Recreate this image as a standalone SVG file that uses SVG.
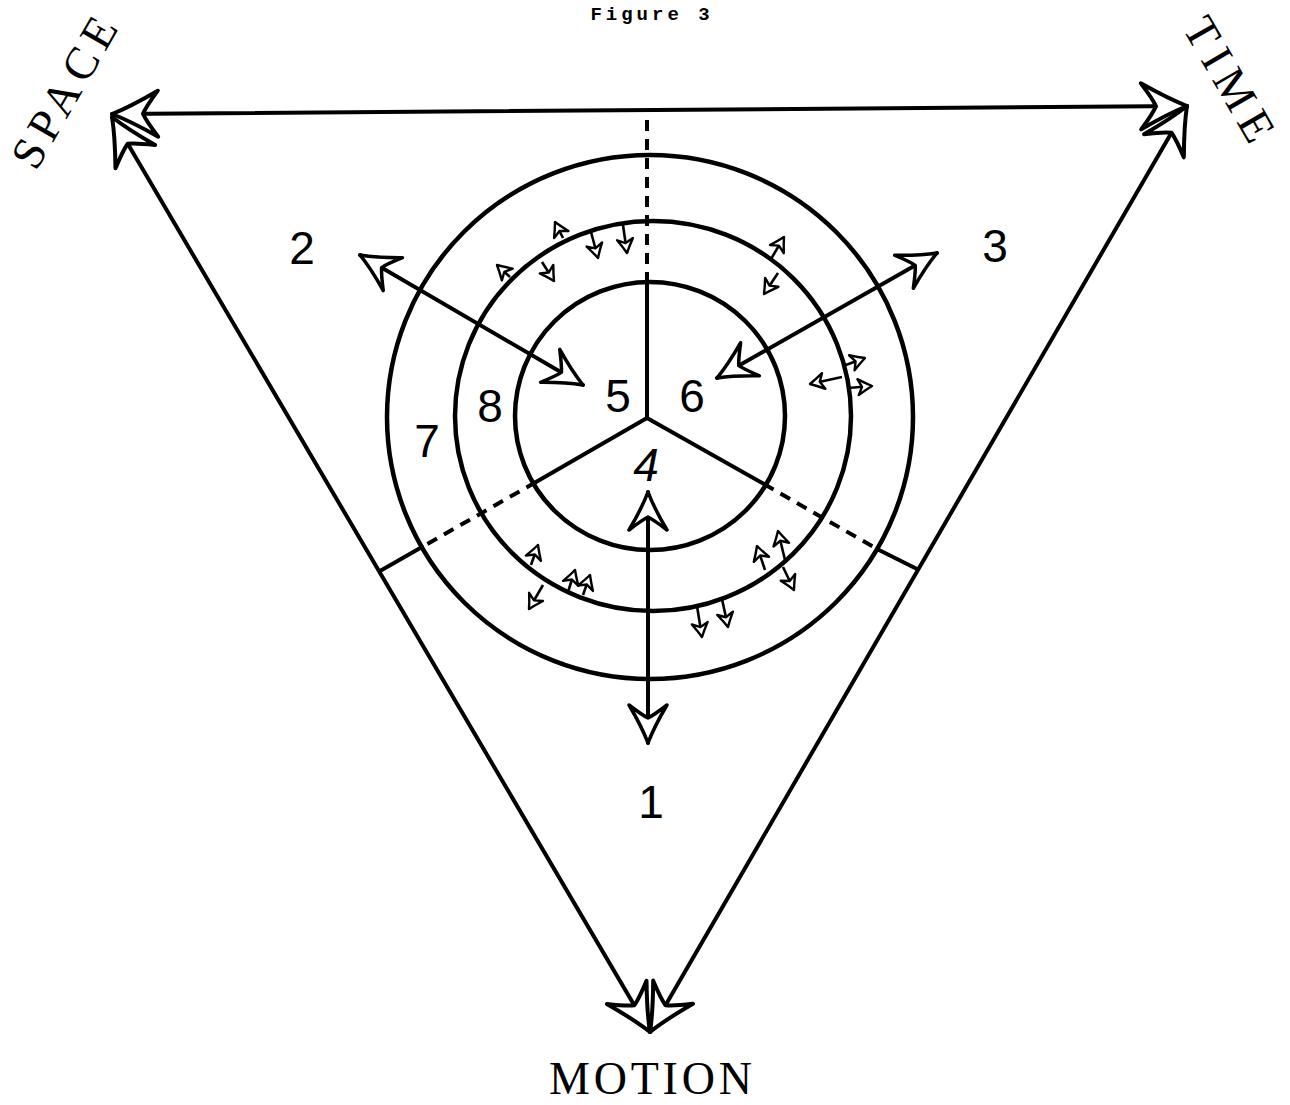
<svg xmlns="http://www.w3.org/2000/svg" width="1290" height="1105" viewBox="0 0 1290 1105">
<style>
.ln{stroke:#000;stroke-width:4;fill:none;stroke-linecap:round}
.ds{stroke:#000;stroke-width:4;fill:none;stroke-dasharray:11 8}
.ring{stroke:#000;stroke-width:4.5;fill:none}
.sm{stroke:#000;stroke-width:2.6;fill:none}
.num{font-family:"Liberation Sans",Arial,sans-serif;font-size:46px;fill:#000}
.cap{font-family:"Liberation Serif","Times New Roman",serif;font-size:46px;fill:#000}
.big{marker-start:url(#ah);marker-end:url(#ah)}
.vt{marker-start:url(#ahv);marker-end:url(#ahv)}
.one{marker-end:url(#sa)}
</style>
<defs>
<marker id="ah" viewBox="-50 -25 55 50" markerWidth="55" markerHeight="50" refX="0" refY="0" orient="auto-start-reverse" markerUnits="userSpaceOnUse" overflow="visible">
<path d="M0,0 Q-16,-6 -38,-19 Q-28,-6 -25,0 Q-28,6 -38,19 Q-16,6 0,0Z" fill="#fff" stroke="#000" stroke-width="3.5" stroke-linejoin="round"/>
</marker>
<marker id="ahv" viewBox="-60 -30 65 60" markerWidth="65" markerHeight="60" refX="0" refY="0" orient="auto-start-reverse" markerUnits="userSpaceOnUse" overflow="visible">
<path d="M0,0 Q-18,-7 -46,-23 Q-34,-7 -31,0 Q-34,7 -46,23 Q-18,7 0,0Z" fill="#fff" stroke="#000" stroke-width="4" stroke-linejoin="round"/>
</marker>
<marker id="sa" viewBox="-18 -10 20 20" markerWidth="20" markerHeight="20" refX="0" refY="0" orient="auto" markerUnits="userSpaceOnUse" overflow="visible">
<path d="M0,0 Q-6,-3 -14,-8 Q-11,-2 -10,0 Q-11,2 -14,8 Q-6,3 0,0Z" fill="#fff" stroke="#000" stroke-width="2.4" stroke-linejoin="round"/>
</marker>
</defs>
<rect width="1290" height="1105" fill="#fff"/>

<g id="title">
<text x="652" y="20" font-family="'Liberation Mono','Courier New',monospace" font-size="19" font-weight="bold" letter-spacing="4" text-anchor="middle">Figure 3</text>
</g>

<g id="rings">
<ellipse id="ring-outer" class="ring" cx="650" cy="417" rx="263" ry="262"/>
<ellipse id="ring-middle" class="ring" cx="653" cy="416" rx="198" ry="195"/>
<ellipse id="ring-inner" class="ring" cx="650" cy="416" rx="135" ry="134"/>
</g>

<g id="spokes">
<line class="ln" x1="647" y1="418" x2="647" y2="283"/>
<line class="ds" x1="647" y1="283" x2="647" y2="110"/>
<line class="ln" x1="647" y1="418" x2="536" y2="482"/>
<line class="ds" x1="536" y1="482" x2="422" y2="547"/>
<line class="ln" x1="422" y1="547" x2="380" y2="571"/>
<line class="ln" x1="647" y1="418" x2="764" y2="484"/>
<line class="ds" x1="764" y1="484" x2="877" y2="549"/>
<line class="ln" x1="877" y1="549" x2="917" y2="569"/>
</g>

<g id="connectors">
<line id="edge-space-time" class="ln vt" x1="112" y1="114" x2="1187" y2="106"/>
<line id="edge-space-motion" class="ln vt" x1="112" y1="117" x2="650" y2="1032"/>
<line id="edge-time-motion" class="ln vt" x1="1187" y1="106" x2="650" y2="1032"/>
<line id="arrow-2" class="ln big" x1="360" y1="255" x2="583" y2="385"/>
<line id="arrow-3" class="ln big" x1="937" y1="253" x2="717" y2="378"/>
<line id="arrow-4-1" class="ln big" x1="648" y1="492" x2="648" y2="743"/>
<g id="small-arrows">
<line class="sm one" x1="563" y1="238" x2="555" y2="222"/>
<line class="sm one" x1="591" y1="232" x2="598" y2="258"/>
<line class="sm one" x1="623" y1="225" x2="627" y2="253"/>
<line class="sm one" x1="510" y1="277" x2="497" y2="265"/>
<line class="sm one" x1="542" y1="262" x2="554" y2="281"/>
<line class="sm one" x1="771" y1="259" x2="784" y2="237"/>
<line class="sm one" x1="778" y1="273" x2="764" y2="294"/>
<line class="sm one" x1="842" y1="377" x2="810" y2="384"/>
<line class="sm one" x1="843" y1="366" x2="865" y2="358"/>
<line class="sm one" x1="848" y1="388" x2="872" y2="386"/>
<line class="sm one" x1="531" y1="565" x2="538" y2="545"/>
<line class="sm one" x1="543" y1="585" x2="529" y2="609"/>
<line class="sm one" x1="568" y1="592" x2="575" y2="570"/>
<line class="sm one" x1="583" y1="595" x2="590" y2="575"/>
<line class="sm one" x1="697" y1="606" x2="702" y2="637"/>
<line class="sm one" x1="722" y1="599" x2="728" y2="627"/>
<line class="sm one" x1="765" y1="570" x2="757" y2="546"/>
<line class="sm one" x1="785" y1="560" x2="778" y2="531"/>
<line class="sm one" x1="783" y1="567" x2="794" y2="590"/>
</g>
</g>

<g id="label-space"><text class="cap" transform="translate(36,172) rotate(-60)" textLength="166" lengthAdjust="spacing">SPACE</text></g>
<g id="label-time"><text class="cap" font-size="44" transform="translate(1182,28) rotate(60)" textLength="136" lengthAdjust="spacing">TIME</text></g>
<g id="label-motion"><text class="cap" x="549" y="1094" textLength="203" lengthAdjust="spacing">MOTION</text></g>

<g id="n1"><text class="num" x="651" y="818" text-anchor="middle">1</text></g>
<g id="n2"><text class="num" x="302" y="264" text-anchor="middle">2</text></g>
<g id="n3"><text class="num" x="995" y="262" text-anchor="middle">3</text></g>
<g id="n4"><text class="num" x="646" y="481" text-anchor="middle" font-style="italic" font-size="44">4</text></g>
<g id="n5"><text class="num" x="618" y="412" text-anchor="middle">5</text></g>
<g id="n6"><text class="num" x="692" y="412" text-anchor="middle">6</text></g>
<g id="n7"><text class="num" x="427" y="457" text-anchor="middle">7</text></g>
<g id="n8"><text class="num" x="490" y="422" text-anchor="middle">8</text></g>
</svg>
